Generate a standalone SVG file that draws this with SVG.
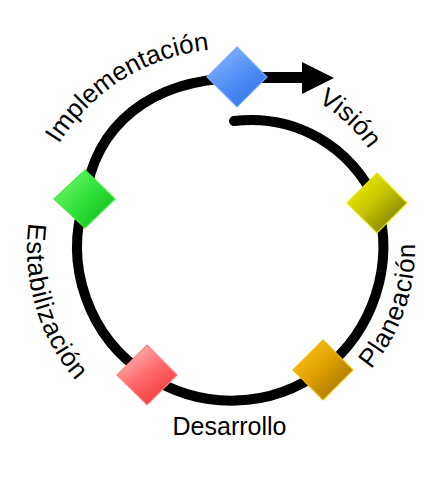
<svg xmlns="http://www.w3.org/2000/svg" width="448" height="480" viewBox="0 0 448 480">
<style>
.ring{fill:none;stroke:#000;stroke-width:10;stroke-linecap:round;stroke-linejoin:round}
.lbl{font-family:"Liberation Sans",Arial,sans-serif;font-size:25px;fill:#000}
.arc{font-size:26px}
.dia{stroke-width:1.2}
</style>
<defs>
<linearGradient id="gBlue" x1="0.2" y1="0.1" x2="0.8" y2="0.95"><stop offset="0" stop-color="#80b2ff"/><stop offset="0.5" stop-color="#4f8ef5"/><stop offset="1" stop-color="#3574ea"/></linearGradient>
<linearGradient id="gGreen" x1="0.1" y1="0.2" x2="0.9" y2="0.9"><stop offset="0" stop-color="#66f266"/><stop offset="0.5" stop-color="#2fe03a"/><stop offset="1" stop-color="#12b81e"/></linearGradient>
<linearGradient id="gYellow" x1="0.15" y1="0.15" x2="0.85" y2="0.9"><stop offset="0" stop-color="#e8e800"/><stop offset="0.45" stop-color="#c4c400"/><stop offset="1" stop-color="#7a7a00"/></linearGradient>
<linearGradient id="gOrange" x1="0.15" y1="0.15" x2="0.85" y2="0.9"><stop offset="0" stop-color="#f6bd10"/><stop offset="0.45" stop-color="#dea000"/><stop offset="1" stop-color="#a27400"/></linearGradient>
<linearGradient id="gRed" x1="0.2" y1="0.1" x2="0.8" y2="0.95"><stop offset="0" stop-color="#ffb4b4"/><stop offset="0.45" stop-color="#ff6c6c"/><stop offset="1" stop-color="#ee3636"/></linearGradient>
<path id="pImpl" d="M 29.8,231.6 A 200 200 0 0 1 280.8,55.8"/>
<path id="pVis" d="M 270.6,82.1 A 172 172 0 0 1 394.3,201.6"/>
<path id="pEst" d="M 39.2,179.9 A 202 202 0 0 0 128,423.9"/>
<path id="pPlan" d="M 348.6,391.5 A 186 186 0 0 0 403.8,185.4"/>
</defs>
<rect width="448" height="480" fill="#fff"/>
<g id="connectors">
<path class="ring" d="M 234,121 C 295,114 350,145 377,203 A 156 156 0 0 1 323,370 A 152 152 0 0 1 147,375 A 152 152 0 0 1 85,199 C 95,125 150,80 237,78"/>
<path d="M 240,77.5 L 305,77.5" stroke="#000" stroke-width="11" fill="none"/>
<polygon points="302,62 334,78 302,94" fill="#000"/>
</g>
<g id="node-vision"><polygon class="dia" points="237,47 267,77 237,107 207,77" fill="url(#gBlue)" stroke="#78a8f8"/></g>
<g id="node-planeacion"><polygon class="dia" points="377,173 407,203 377,233 347,203" fill="url(#gYellow)" stroke="#e6e600"/></g>
<g id="node-desarrollo"><polygon class="dia" points="323,340 353,370 323,400 293,370" fill="url(#gOrange)" stroke="#f2b800"/></g>
<g id="node-estabilizacion"><polygon class="dia" points="147,345 177,375 147,405 117,375" fill="url(#gRed)" stroke="#ff8080"/></g>
<g id="node-implementacion"><polygon class="dia" points="85,170 115,199 85,228 54,199" fill="url(#gGreen)" stroke="#40ee40"/></g>
<g id="labels">
<text class="lbl arc"><textPath href="#pImpl" startOffset="53%" text-anchor="middle">Implementación</textPath></text>
<text class="lbl arc"><textPath href="#pVis" startOffset="48%" text-anchor="middle">Visión</textPath></text>
<text class="lbl arc" letter-spacing="0.8"><textPath href="#pEst" startOffset="46%" text-anchor="middle">Estabilización</textPath></text>
<text class="lbl arc" letter-spacing="0.8"><textPath href="#pPlan" startOffset="44%" text-anchor="middle">Planeación</textPath></text>
<text class="lbl" x="229.5" y="435" text-anchor="middle">Desarrollo</text>
</g>
</svg>
